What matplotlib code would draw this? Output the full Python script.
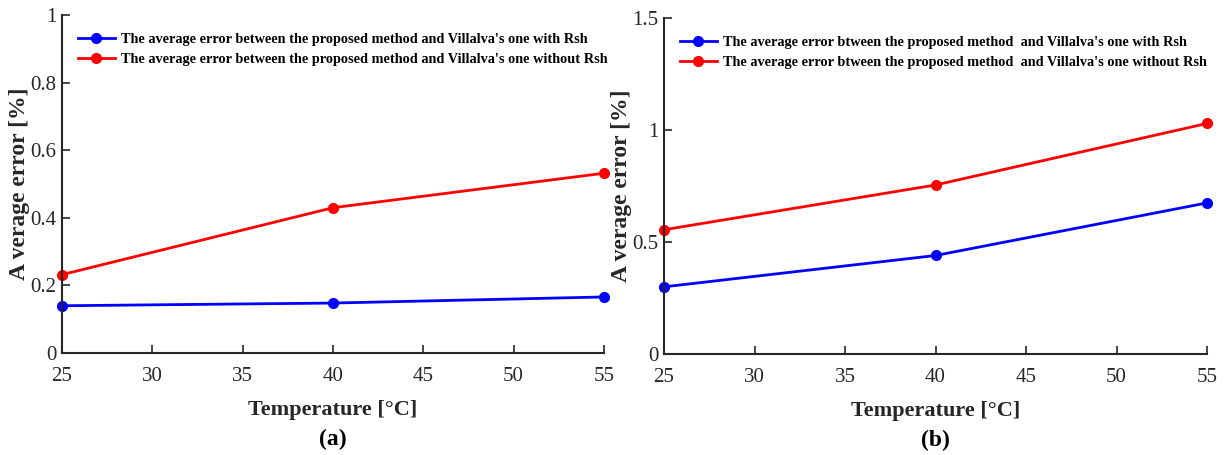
import matplotlib
matplotlib.use('Agg')
import matplotlib.pyplot as plt

# data
temps = [25, 40, 55]
err_with_a = [0.140, 0.148, 0.166]
err_without_a = [0.232, 0.430, 0.532]
err_with_b = [0.300, 0.440, 0.675]
err_without_b = [0.555, 0.755, 1.030]

lab_with_a = "The average error between the proposed method and Villalva's one with Rsh"
lab_without_a = "The average error between the proposed method and Villalva's one without Rsh"
lab_with_b = "The average error btween the proposed method  and Villalva's one with Rsh"
lab_without_b = "The average error btween the proposed method  and Villalva's one without Rsh"

plt.rcParams['font.family'] = ['Liberation Serif', 'DejaVu Serif']

fig = plt.figure(figsize=(12.26, 4.55), dpi=100)
ax1 = fig.add_axes([0.0506, 0.224, 0.442, 0.743])
ax2 = fig.add_axes([0.5416, 0.222, 0.443, 0.738])


def style(ax, ylim, yticks, yticklabels, tag):
    ax.set_xlim(25, 55)
    ax.set_ylim(*ylim)
    ax.set_xticks(range(25, 56, 5))
    ax.set_yticks(yticks)
    ax.set_yticklabels(yticklabels)
    ax.spines['top'].set_visible(False)
    ax.spines['right'].set_visible(False)
    for s in ('left', 'bottom'):
        ax.spines[s].set_linewidth(1.5)
        ax.spines[s].set_color('#262626')
    ax.tick_params(direction='in', length=6, width=1.2, labelsize=15, colors='#262626')
    ax.tick_params(axis='x', pad=10)
    ax.tick_params(axis='y', pad=4)
    ax.set_xlabel('Temperature [°C]', fontsize=16, fontweight='bold', color='#262626', labelpad=10)
    ax.set_ylabel('A verage error [%]', fontsize=17, fontweight='bold', color='#262626', labelpad=0)
    ax.text(0.5, -0.225, tag, transform=ax.transAxes, ha='center', va='top',
            fontsize=17, fontweight='bold')
    leg = ax.legend(loc='upper left', bbox_to_anchor=(0.005, 0.985), frameon=False,
                    prop={'weight': 'bold', 'size': 10.3}, handlelength=2.6,
                    handletextpad=0.4, labelspacing=0.5)
    return leg


ax1.plot(temps, err_with_a, '-o', color='#0000ff', lw=2, ms=7, label=lab_with_a, clip_on=False)
ax1.plot(temps, err_without_a, '-o', color='#ff0000', lw=2, ms=7, label=lab_without_a, clip_on=False)
style(ax1, (0, 1), [0, 0.2, 0.4, 0.6, 0.8, 1], ['0', '0.2', '0.4', '0.6', '0.8', '1'], '(a)')

ax2.plot(temps, err_with_b, '-o', color='#0000ff', lw=2, ms=7, label=lab_with_b, clip_on=False)
ax2.plot(temps, err_without_b, '-o', color='#ff0000', lw=2, ms=7, label=lab_without_b, clip_on=False)
style(ax2, (0, 1.5), [0, 0.5, 1, 1.5], ['0', '0.5', '1', '1.5'], '(b)')

fig.savefig('out.png', dpi=100)
